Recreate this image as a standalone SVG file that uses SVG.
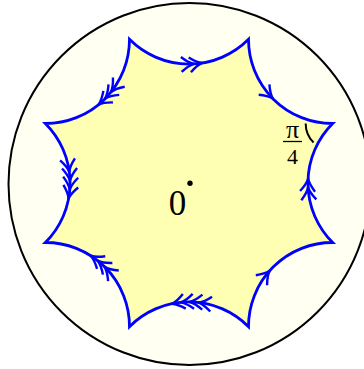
<svg xmlns="http://www.w3.org/2000/svg" xmlns:xlink="http://www.w3.org/1999/xlink" width="364" height="369" viewBox="0 0 364 369">
<style>
.disk{fill:#fffff2;stroke:#000;stroke-width:2}
.oct{fill:#ffffb3;stroke:#0000ff;stroke-width:2.8;stroke-linejoin:miter}
.chev{fill:none;stroke:#0000ff;stroke-width:2.4;stroke-linecap:butt;stroke-linejoin:round}
.ang{fill:none;stroke:#000;stroke-width:2}
.lbl{font-family:"Liberation Serif","DejaVu Serif",serif;fill:#000}
</style>
<defs>
<path id="c" class="chev" d="M -12,-7.5 Q -5,-1.5 0.5,0 Q -5,1.5 -12,7.5"/>
</defs>
<circle class="disk" cx="189.5" cy="184" r="181"/>
<g id="octagon">
<path class="oct" d="M 129.49,39.34 A 84 84 0 0 0 248.51,39.34 A 84 84 0 0 0 332.66,123.49 A 84 84 0 0 0 332.66,242.51 A 84 84 0 0 0 248.51,326.66 A 84 84 0 0 0 129.49,326.66 A 84 84 0 0 0 45.34,242.51 A 84 84 0 0 0 45.34,123.49 A 84 84 0 0 0 129.49,39.34 Z"/>
</g>
<g id="arrows">
<g transform="rotate(0 189 183) translate(189 -20)">
<use xlink:href="#c" href="#c" transform="rotate(-8.7) translate(0 84)"/>
<use xlink:href="#c" href="#c" transform="rotate(-2.9) translate(0 84)"/>
</g>
<g transform="rotate(45 189 183) translate(189 -20)">
<use xlink:href="#c" href="#c" transform="rotate(0.7) translate(0 84)"/>
</g>
<g transform="rotate(90 189 183) translate(189 -20)">
<use xlink:href="#c" href="#c" transform="rotate(2.5) translate(0 84) scale(-1 1)"/>
<use xlink:href="#c" href="#c" transform="rotate(-3.3) translate(0 84) scale(-1 1)"/>
</g>
<g transform="rotate(135 189 183) translate(189 -20)">
<use xlink:href="#c" href="#c" transform="rotate(-3.8) translate(0 84) scale(-1 1)"/>
</g>
<g transform="rotate(180 189 183) translate(189 -20)">
<use xlink:href="#c" href="#c" transform="rotate(-11.3) translate(0 84)"/>
<use xlink:href="#c" href="#c" transform="rotate(-5.2) translate(0 84)"/>
<use xlink:href="#c" href="#c" transform="rotate(0.9) translate(0 84)"/>
<use xlink:href="#c" href="#c" transform="rotate(7.0) translate(0 84)"/>
</g>
<g transform="rotate(225 189 183) translate(189 -20)">
<use xlink:href="#c" href="#c" transform="rotate(-12.1) translate(0 84)"/>
<use xlink:href="#c" href="#c" transform="rotate(-6.0) translate(0 84)"/>
<use xlink:href="#c" href="#c" transform="rotate(0.1) translate(0 84)"/>
</g>
<g transform="rotate(270 189 183) translate(189 -20)">
<use xlink:href="#c" href="#c" transform="rotate(10.3) translate(0 84) scale(-1 1)"/>
<use xlink:href="#c" href="#c" transform="rotate(4.2) translate(0 84) scale(-1 1)"/>
<use xlink:href="#c" href="#c" transform="rotate(-1.9) translate(0 84) scale(-1 1)"/>
<use xlink:href="#c" href="#c" transform="rotate(-8.0) translate(0 84) scale(-1 1)"/>
</g>
<g transform="rotate(315 189 183) translate(189 -20)">
<use xlink:href="#c" href="#c" transform="rotate(5.5) translate(0 84) scale(-1 1)"/>
<use xlink:href="#c" href="#c" transform="rotate(-0.6) translate(0 84) scale(-1 1)"/>
<use xlink:href="#c" href="#c" transform="rotate(-6.7) translate(0 84) scale(-1 1)"/>
</g>
</g>
<g id="angle">
<path class="ang" d="M 305.66,123.49 A 27 27 0 0 0 313.57,142.58"/>
<text class="lbl" x="292.5" y="137.5" font-size="26" text-anchor="middle">π</text>
<line x1="283" y1="141.5" x2="302" y2="141.5" stroke="#000" stroke-width="1.3"/>
<text class="lbl" x="292.5" y="163.5" font-size="22" text-anchor="middle">4</text>
</g>
<g id="origin">
<circle cx="190" cy="183.3" r="2.7" fill="#000"/>
<text class="lbl" x="177.5" y="215" font-size="35" text-anchor="middle">0</text>
</g>
</svg>
